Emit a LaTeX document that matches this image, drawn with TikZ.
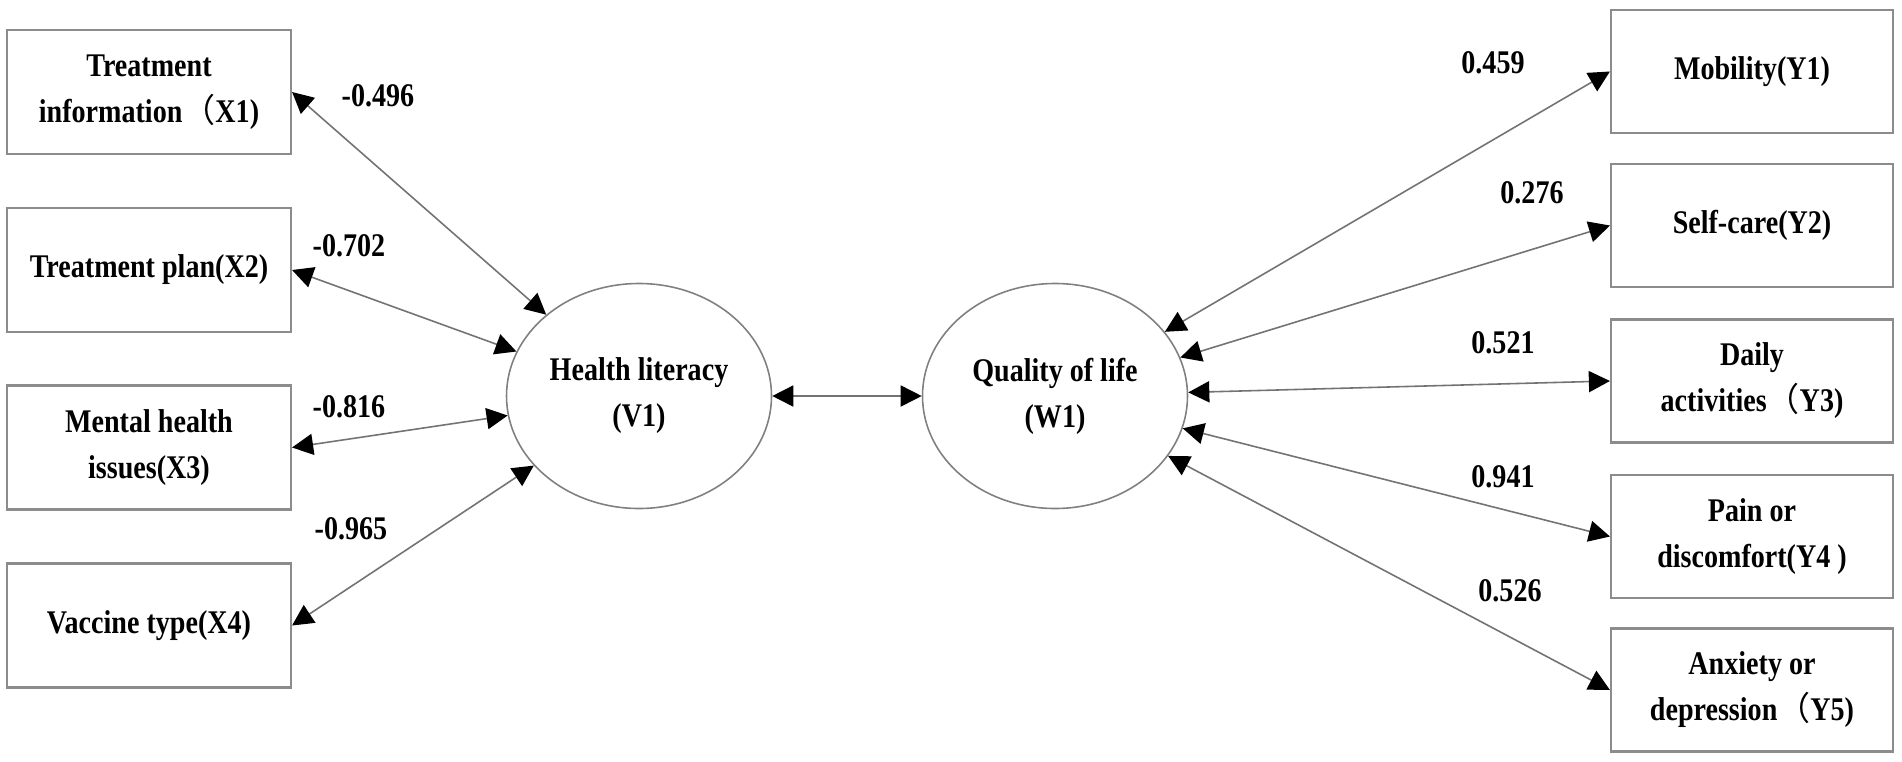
\documentclass[tikz,border=0pt]{standalone}
\usepackage{fontspec}
\setmainfont{Liberation Serif}[BoldFeatures={FakeStretch=0.85}]
\newfontfamily\cjk{Noto Sans CJK SC}
\usetikzlibrary{arrows.meta,shapes.geometric}

\newcommand{\diagfont}{\fontsize{9.4}{13.1}\selectfont\bfseries}
\newcommand{\wparen}{{\cjk\mdseries （}}

\tikzset{
  varbox/.style={draw=black!45, line width=0.6pt, minimum width=2.84cm, minimum height=1.24cm,
    inner sep=0pt, align=center, font=\diagfont},
  latent/.style={ellipse, draw=black!50, line width=0.45pt, minimum width=2.65cm, minimum height=2.25cm,
    inner sep=0pt, align=center, font=\diagfont},
  link/.style={{Triangle[length=6pt,width=6pt,color=black]}-{Triangle[length=6pt,width=6pt,color=black]},
    draw=black!55, line width=0.45pt},
  coef/.style={font=\diagfont, inner sep=0pt}
}

\begin{document}
\begin{tikzpicture}

  \path[fill=white, use as bounding box] (0,0) rectangle (19.02,7.61);

  % Latent variables
  \node[latent] (hl) at (6.39,3.65) {Health literacy\\(V1)};
  \node[latent] (qol) at (10.55,3.65) {Quality of life\\(W1)};
  \draw[link] (hl) -- (qol);

  % Health literacy indicators (left)
  \foreach \i/\ypos/\txt/\lx/\ly/\val in {
      1/6.69/{Treatment\\information\wparen X1)}/3.78/6.65/-0.496,
      2/4.91/{Treatment plan(X2)}/3.49/5.15/-0.702,
      3/3.135/{Mental health\\issues(X3)}/3.49/3.54/-0.816,
      4/1.355/{Vaccine type(X4)}/3.51/2.32/-0.965} {
    \node[varbox] (x\i) at (1.49,\ypos) {\txt};
    \draw[link] (x\i.east) -- (hl);
    \node[coef] (cx\i) at (\lx,\ly) {\val};
  }

  % Quality of life indicators (right)
  \foreach \i/\ypos/\txt/\lx/\ly/\val in {
      1/6.895/{Mobility(Y1)}/14.93/6.98/0.459,
      2/5.355/{Self-care(Y2)}/15.32/5.68/0.276,
      3/3.80/{Daily\\activities\wparen Y3)}/15.03/4.18/0.521,
      4/2.245/{Pain or\\discomfort(Y4 )}/15.03/2.84/0.941,
      5/0.71/{Anxiety or\\depression\wparen Y5)}/15.10/1.70/0.526} {
    \node[varbox, minimum height=1.23cm, minimum width=2.82cm] (y\i) at (17.52,\ypos) {\txt};
    \draw[link] (qol) -- (y\i.west);
    \node[coef] (cy\i) at (\lx,\ly) {\val};
  }

\end{tikzpicture}
\end{document}
